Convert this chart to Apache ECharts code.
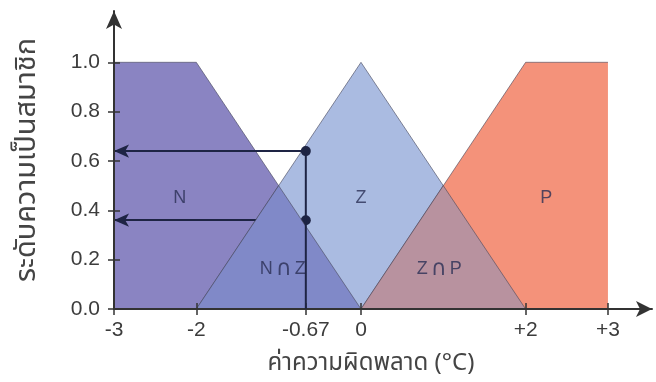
<!DOCTYPE html>
<html>
<head>
<meta charset="utf-8">
<script src="https://cdn.jsdelivr.net/npm/echarts@6/dist/echarts.min.js"></script>
<style>
html,body{margin:0;padding:0;background:#fff;}
#c{width:656px;height:382px;}
</style>
</head>
<body>
<div id="c"></div>
<script>
// ---- data ----
const xTicks = [-3, -2, -0.67, 0, 2, 3];
const yTicks = [0, 0.2, 0.4, 0.6, 0.8, 1.0];
const nX = [-3, -2, 0];
const nY = [1, 1, 0];
const zX = [-2, 0, 2];
const zY = [0, 1, 0];
const pX = [0, 2, 3];
const pY = [0, 1, 1];
const nzX = [-2, -1, 0];
const nzY = [0, 0.5, 0];
const zpX = [0, 1, 2];
const zpY = [0, 0.5, 0];
const errorX = -0.67;
const memberZ = 0.64;
const memberN = 0.36;
const labelText = ['N', 'Z', 'P', 'N∩Z', 'Z∩P'];
const labelX = [-2.2, 0, 2.25, -0.95, 0.95];
const labelY = [0.45, 0.45, 0.45, 0.16, 0.16];
const yTitle = 'ระดับความเป็นสมาชิก';
const xTitle = 'ค่าความผิดพลาด (°C)';

const zip = (a, b) => a.map((v, i) => [v, b[i]]);
const thai = '"Noto Sans Thai","Noto Sans Thai UI","Loma","Garuda","Tlwg Typo","Norasi","Liberation Sans",sans-serif';
const edge = 'rgba(70,70,90,0.6)';
const ink = '#1e2444';

function area(name, x, y, color, z) {
  return {
    name, type: 'line', data: zip(x, y), symbol: 'none', z,
    lineStyle: {color: edge, width: 1},
    areaStyle: {color, opacity: 1},
    silent: true, animation: false
  };
}

const chart = echarts.init(document.getElementById('c'), null, {renderer: 'canvas'});
const fmtX = v => (v > 0 ? '+' + v : (v === 0 ? '0' : String(v)));
const tickStyle = {color: '#333', width: 1.5};
chart.setOption({
  animation: false,
  grid: {left: 114, right: 4, top: 11, bottom: 73, containLabel: false},
  xAxis: [{
    type: 'value', min: -3, max: 3.535, z: 10,
    axisLine: {show: true, onZero: false, lineStyle: {color: '#333', width: 2}, symbol: ['none', 'arrow'], symbolSize: [12, 16]},
    axisTick: {show: true, customValues: xTicks, length: 6, lineStyle: tickStyle},
    axisLabel: {customValues: xTicks, formatter: fmtX, color: '#3c3c3c', fontSize: 21, fontFamily: 'Liberation Sans', margin: 11},
    splitLine: {show: false},
    name: xTitle, nameLocation: 'middle', nameGap: 44,
    nameTextStyle: {color: '#444', fontSize: 24, fontFamily: thai, padding: [0, 24, 0, 0]}
  }, {
    type: 'value', min: -3, max: 3.535, position: 'bottom', z: 10,
    axisLine: {show: false, onZero: false},
    axisTick: {show: true, inside: true, customValues: xTicks, length: 6, lineStyle: tickStyle},
    axisLabel: {show: false}, splitLine: {show: false}
  }],
  yAxis: [{
    type: 'value', min: 0, max: 1.208, z: 10,
    axisLine: {show: true, onZero: false, lineStyle: {color: '#333', width: 2}, symbol: ['none', 'arrow'], symbolSize: [12, 18]},
    axisTick: {show: true, customValues: yTicks, length: 6, lineStyle: tickStyle},
    axisLabel: {customValues: yTicks, formatter: v => v.toFixed(1), color: '#3c3c3c', fontSize: 21, fontFamily: 'Liberation Sans', margin: 14},
    splitLine: {show: false},
    name: yTitle, nameLocation: 'middle', nameGap: 70, nameRotate: 90,
    nameTextStyle: {color: '#444', fontSize: 29, fontFamily: thai}
  }, {
    type: 'value', min: 0, max: 1.208, position: 'left', z: 10,
    axisLine: {show: false, onZero: false},
    axisTick: {show: true, inside: true, customValues: yTicks, length: 6, lineStyle: tickStyle},
    axisLabel: {show: false}, splitLine: {show: false}
  }],
  series: [
    area('N', nX, nY, '#8a84c2', 2),
    area('Z', zX, zY, '#aabbe1', 3),
    area('P', pX, pY, '#f4927a', 4),
    area('NZ', nzX, nzY, '#8089c8', 5),
    area('ZP', zpX, zpY, '#b8929f', 6),
    {
      type: 'line', data: [], z: 8, silent: true, animation: false,
      markArea: {
        silent: true,
        itemStyle: {color: 'rgba(255,255,255,0.16)'},
        data: [[{coord: [-3, 0]}, {coord: [3, 0.11]}]]
      }
    },
    {
      type: 'scatter', z: 9, symbolSize: 0, silent: true, animation: false,
      data: labelX.map((x, i) => ({value: [x, labelY[i]], name: labelText[i]})),
      label: {
        show: true, position: 'inside',
        formatter: p => p.name.split('∩').map(s => '{a|' + s + '}').join('{b|∩}'),
        rich: {
          a: {color: '#2a2f55', fontSize: 18, fontFamily: 'Liberation Sans', padding: [0, 2, 0, 2]},
          b: {color: '#2a2f55', fontSize: 22, fontFamily: 'DejaVu Sans', padding: [0, 1, 0, 1]}
        }
      }
    },
    {
      name: 'drop', type: 'line', z: 11, silent: true, animation: false, symbol: 'none',
      data: [[errorX, 0], [errorX, memberZ]],
      lineStyle: {color: ink, width: 2}
    },
    {
      type: 'line', data: [], z: 12, silent: true, animation: false,
      markLine: {
        silent: true, animation: false,
        lineStyle: {color: ink, width: 2, type: 'solid'},
        label: {show: false},
        data: [
          [{coord: [errorX, memberZ], symbol: 'circle', symbolSize: 10}, {coord: [-3, memberZ], symbol: 'arrow', symbolSize: [10, 15]}],
          [{coord: [errorX, memberN], symbol: 'circle', symbolSize: 10}, {coord: [-3, memberN], symbol: 'arrow', symbolSize: [10, 15]}]
        ]
      }
    }
  ]
});
</script>
</body>
</html>
